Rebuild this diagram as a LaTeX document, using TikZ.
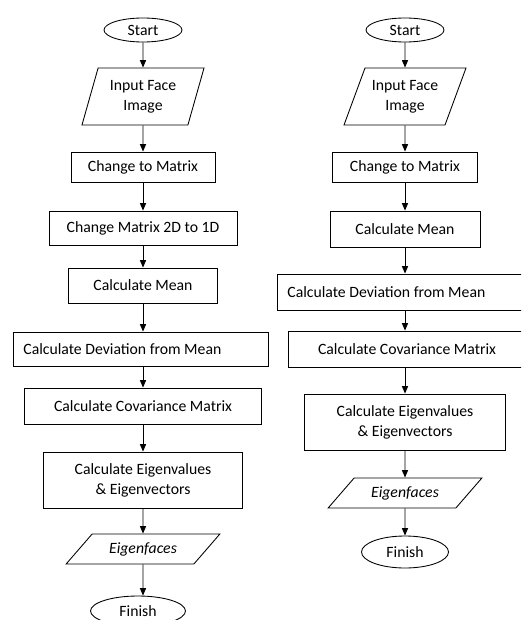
\documentclass[tikz,border=0pt]{standalone}
\usepackage{fontspec}
\setmainfont{Carlito}
\usetikzlibrary{shapes.geometric,arrows.meta}
\begin{document}
\begin{tikzpicture}[x=0.75pt,y=-0.75pt]
        \tikzstyle{step text}=[font=\fontsize{11.8pt}{15pt}\selectfont,align=center]
        \tikzstyle{terminal}=[ellipse,draw=black,line width=0.65pt,inner sep=0pt,step text]
        \tikzstyle{process}=[rectangle,draw=black,line width=0.65pt,inner sep=2pt,step text]
        \tikzstyle{data}=[trapezium,trapezium stretches=true,draw=black,line width=0.65pt,inner sep=0pt,step text]
        \tikzstyle{edge}=[draw,line width=0.7pt,-{Triangle[length=5.5pt,width=4.5pt]}]
       \useasboundingbox (0,0) rectangle (521,620);
       \clip (0,0) rectangle (521,620);
       % first flowchart
       \begin{scope}
         \node [terminal,minimum width=58.5pt,minimum height=18pt] (l1) at (143,30) {Start};
         \node [data,trapezium left angle=70,trapezium right angle=110,minimum width=92pt,minimum height=42.75pt] (l2) at (143,96.5) {Input Face\\Image};
         \node [process,minimum width=108pt,minimum height=22.5pt] (l3) at (143,167) {Change to Matrix};
         \node [process,minimum width=141pt,minimum height=25.5pt] (l4) at (143,228) {Change Matrix 2D to 1D};
         \node [process,minimum width=111.75pt,minimum height=26.25pt] (l5) at (143,285.5) {Calculate Mean};
         \node [process,anchor=west,text width=176.25pt,align=flush left,inner xsep=7.5pt,minimum height=25.5pt] (l6) at (13,349) {Calculate Deviation from Mean};
         \node [process,minimum width=177.75pt,minimum height=27pt] (l7) at (143,406) {Calculate Covariance Matrix};
         \node [process,minimum width=149.25pt,minimum height=42pt] (l8) at (143,480) {Calculate Eigenvalues\\\& Eigenvectors};
         \node [data,trapezium left angle=38,trapezium right angle=142,minimum width=115.5pt,minimum height=22.5pt] (l9) at (143,549) {\itshape Eigenfaces};
         \node [terminal,minimum width=71.25pt,minimum height=22.5pt] (l10) at (138,611) {Finish};
         \path (l1) edge[edge] (l2);
         \path (l2) edge[edge] (l3);
         \path (l3) edge[edge] (l4);
         \path (l4) edge[edge] (l5);
         \path (l5) edge[edge] (l5 |- l6.north);
         \path (l5 |- l6.south) edge[edge] (l7);
         \path (l7) edge[edge] (l8);
         \path (l8) edge[edge] (l9);
         \path (l9) edge[edge] (l10.north -| l9);
        \end{scope}
       % second flowchart
       \begin{scope}
         \node [terminal,minimum width=58.5pt,minimum height=18pt] (r1) at (405,30) {Start};
         \node [data,trapezium left angle=62,trapezium right angle=118,minimum width=92pt,minimum height=42.75pt] (r2) at (405,96.5) {Input Face\\Image};
         \node [process,minimum width=108.75pt,minimum height=22.5pt] (r3) at (405,167) {Change to Matrix};
         \node [process,minimum width=112.5pt,minimum height=27pt] (r4) at (405,229) {Calculate Mean};
         \node [process,anchor=west,text width=176.25pt,align=flush left,inner xsep=7.5pt,minimum height=27pt] (r5) at (277,292) {Calculate Deviation from Mean};
         \node [process,minimum width=177.75pt,minimum height=27pt] (r6) at (407,349) {Calculate Covariance Matrix};
         \node [process,minimum width=150.75pt,minimum height=42pt] (r7) at (405,422) {Calculate Eigenvalues\\\& Eigenvectors};
         \node [data,trapezium left angle=38,trapezium right angle=142,minimum width=115.5pt,minimum height=22.5pt] (r8) at (405,493) {\itshape Eigenfaces};
         \node [terminal,minimum width=65.25pt,minimum height=24pt] (r9) at (405,552) {Finish};
         \path (r1) edge[edge] (r2);
         \path (r2) edge[edge] (r3);
         \path (r3) edge[edge] (r4);
         \path (r4) edge[edge] (r4 |- r5.north);
         \path (r4 |- r5.south) edge[edge] (r4 |- r6.north);
         \path (r4 |- r6.south) edge[edge] (r7);
         \path (r7) edge[edge] (r8);
         \path (r8) edge[edge] (r9);
        \end{scope}
      \end{tikzpicture}
\end{document}
